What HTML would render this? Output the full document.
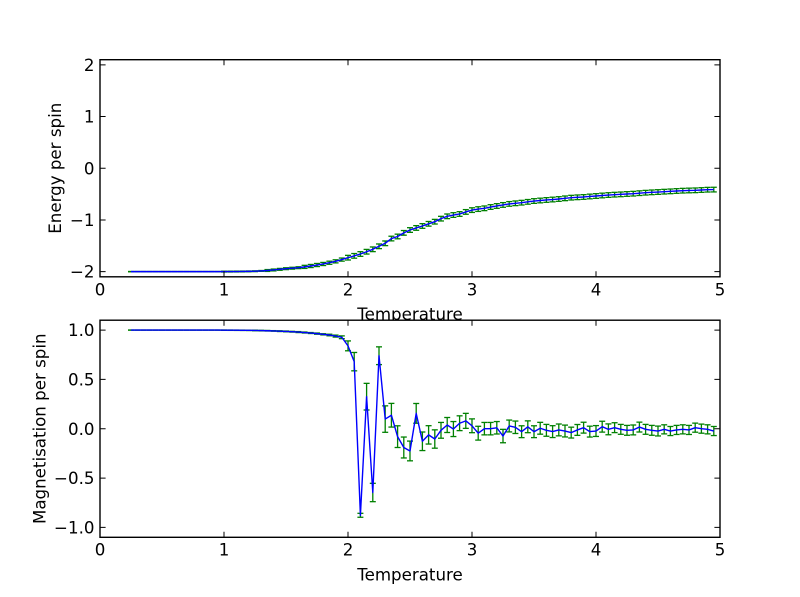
<!DOCTYPE html>
<html>
<head>
<meta charset="utf-8">
<style>
html,body{margin:0;padding:0;background:#fff;}
svg{display:block;}
text{font-family:"DejaVu Sans","Liberation Sans",sans-serif;font-size:16.67px;fill:#000;}
.eb1{fill:none;stroke:#008000;stroke-width:1.3;marker-start:url(#ct);marker-mid:url(#ct);marker-end:url(#ct);}
.eb2{fill:none;stroke:#008000;stroke-width:1.3;marker-start:url(#cb);marker-mid:url(#cb);marker-end:url(#cb);}
.ln{fill:none;stroke:#0000ff;stroke-width:1.4;stroke-linejoin:round;}
</style>
</head>
<body>
<svg width="800" height="597" viewBox="0 0 800 597" xmlns="http://www.w3.org/2000/svg">
<defs>
<marker id="ct" markerUnits="userSpaceOnUse" markerWidth="1" markerHeight="1" refX="0" refY="0" orient="0" overflow="visible"><path d="M-.0242,0H.0242" fill="none" stroke="#008000" stroke-width=".0251"/></marker>
<marker id="cb" markerUnits="userSpaceOnUse" markerWidth="1" markerHeight="1" refX="0" refY="0" orient="0" overflow="visible"><path d="M-.0242,0H.0242" fill="none" stroke="#008000" stroke-width=".0132"/></marker>
</defs>
<rect x="0" y="0" width="800" height="597" fill="#fff"/>

<!-- TOP AXES -->
<rect x="100" y="59.7" width="620" height="217.1" fill="#fff"/>
<g transform="matrix(124 0 0 -51.69 100 168.25)">
<path class="eb1" vector-effect="non-scaling-stroke" d="M.25,-2.003V-1.997M.3,-2.003V-1.997M.35,-2.003V-1.997M.4,-2.003V-1.997M.45,-2.003V-1.997M.5,-2.003V-1.997M.55,-2.003V-1.997M.6,-2.003V-1.997M.65,-2.003V-1.997M.7,-2.003V-1.997M.75,-2.003V-1.997M.8,-2.003V-1.997M.85,-2.003V-1.997M.9,-2.003V-1.997M.95,-2.003V-1.997M1,-2.0075V-1.9915M1.05,-2.007V-1.991M1.1,-2.006V-1.99M1.15,-2.005V-1.989M1.2,-2.003V-1.987M1.25,-2V-1.984M1.3,-1.994V-1.978M1.35,-1.996V-1.96M1.4,-1.986V-1.95M1.45,-1.974V-1.938M1.5,-1.961V-1.925M1.55,-1.952V-1.916M1.6,-1.942V-1.906M1.65,-1.938V-1.878M1.7,-1.921V-1.861M1.75,-1.902V-1.842M1.8,-1.882V-1.822M1.85,-1.858V-1.798M1.9,-1.831V-1.771M1.95,-1.797V-1.737M2,-1.775V-1.685M2.05,-1.74V-1.65M2.1,-1.704V-1.614M2.15,-1.66V-1.57M2.2,-1.613V-1.523M2.25,-1.555V-1.465M2.3,-1.497V-1.407M2.35,-1.405V-1.315M2.4,-1.365V-1.275M2.45,-1.295V-1.205M2.5,-1.24V-1.15M2.55,-1.2V-1.11M2.6,-1.162V-1.072M2.65,-1.12V-1.03M2.7,-1.079V-.989M2.75,-1.02V-.93M2.8,-.975V-.885M2.85,-.95V-.86M2.9,-.93V-.84M2.95,-.89V-.8M3,-.855V-.765M3.05,-.835V-.745M3.1,-.82V-.73M3.15,-.795V-.705M3.2,-.775V-.685M3.25,-.755V-.665M3.3,-.735V-.645M3.35,-.723V-.633M3.4,-.711V-.621M3.45,-.695V-.605M3.5,-.679V-.589M3.55,-.669V-.579M3.6,-.659V-.569M3.65,-.65V-.56M3.7,-.64V-.55M3.75,-.627V-.537M3.8,-.614V-.524M3.85,-.607V-.517M3.9,-.601V-.511M3.95,-.591V-.501M4,-.582V-.492M4.05,-.572V-.482M4.1,-.563V-.473M4.15,-.556V-.466M4.2,-.55V-.46M4.25,-.543V-.453M4.3,-.537V-.447M4.35,-.527V-.437M4.4,-.518V-.428M4.45,-.511V-.421M4.5,-.505V-.415M4.55,-.498V-.408M4.6,-.492V-.402M4.65,-.485V-.395M4.7,-.479V-.389M4.75,-.475V-.385M4.8,-.472V-.382M4.85,-.466V-.376M4.9,-.46V-.37M4.95,-.458V-.368"/>
<polyline class="ln" vector-effect="non-scaling-stroke" points=".25,-2 .95,-2 1,-1.9995 1.05,-1.999 1.1,-1.998 1.15,-1.997 1.2,-1.995 1.25,-1.992 1.3,-1.986 1.35,-1.978 1.4,-1.968 1.45,-1.956 1.5,-1.943 1.55,-1.934 1.6,-1.924 1.65,-1.908 1.7,-1.891 1.75,-1.872 1.8,-1.852 1.85,-1.828 1.9,-1.801 1.95,-1.767 2,-1.73 2.05,-1.695 2.1,-1.659 2.15,-1.615 2.2,-1.568 2.25,-1.51 2.3,-1.452 2.35,-1.36 2.4,-1.32 2.45,-1.25 2.5,-1.195 2.55,-1.155 2.6,-1.117 2.65,-1.075 2.7,-1.034 2.75,-.975 2.8,-.93 2.85,-.905 2.9,-.885 2.95,-.845 3,-.81 3.05,-.79 3.1,-.775 3.15,-.75 3.2,-.73 3.25,-.71 3.3,-.69 3.35,-.678 3.4,-.666 3.45,-.65 3.5,-.634 3.55,-.624 3.6,-.614 3.65,-.605 3.7,-.595 3.75,-.582 3.8,-.569 3.85,-.562 3.9,-.556 3.95,-.546 4,-.537 4.05,-.527 4.1,-.518 4.15,-.511 4.2,-.505 4.25,-.498 4.3,-.492 4.35,-.482 4.4,-.473 4.45,-.466 4.5,-.46 4.55,-.453 4.6,-.447 4.65,-.44 4.7,-.434 4.75,-.43 4.8,-.427 4.85,-.421 4.9,-.415 4.95,-.413"/>
</g>
<path fill="none" stroke="#000" stroke-width="1" d="M100,276.8V271.2M224,276.8V271.2M348,276.8V271.2M472,276.8V271.2M596,276.8V271.2M720,276.8V271.2M100,59.7V65.3M224,59.7V65.3M348,59.7V65.3M472,59.7V65.3M596,59.7V65.3M720,59.7V65.3M100,64.87H105.6M100,116.56H105.6M100,168.25H105.6M100,219.94H105.6M100,271.63H105.6M720,64.87H714.4M720,116.56H714.4M720,168.25H714.4M720,219.94H714.4M720,271.63H714.4"/>
<rect x="100" y="59.7" width="620" height="217.1" fill="none" stroke="#000" stroke-width="1.4"/>
<g text-anchor="end">
<text x="94.5" y="70.97">2</text>
<text x="94.5" y="122.66">1</text>
<text x="94.5" y="174.35">0</text>
<text x="94.5" y="226.04">−1</text>
<text x="94.5" y="277.73">−2</text>
</g>
<g text-anchor="middle">
<text x="100" y="295.3">0</text>
<text x="224" y="295.3">1</text>
<text x="348" y="295.3">2</text>
<text x="472" y="295.3">3</text>
<text x="596" y="295.3">4</text>
<text x="720" y="295.3">5</text>
<text x="410" y="320.2">Temperature</text>
</g>
<text text-anchor="middle" transform="translate(61,168.25) rotate(-90)">Energy per spin</text>

<!-- BOTTOM AXES -->
<rect x="100" y="320.2" width="620" height="217.1" fill="#fff"/>
<g transform="matrix(124 0 0 -98.68 100 428.75)">
<path class="eb2" vector-effect="non-scaling-stroke" d="M.25,.999V1.001M.3,.999V1.001M.35,.999V1.001M.4,.999V1.001M.45,.999V1.001M.5,.999V1.001M.55,.999V1.001M.6,.999V1.001M.65,.999V1.001M.7,.999V1.001M.75,.999V1.001M.8,.999V1.001M.85,.999V1.001M.9,.999V1.001M.95,.999V1.001M1,.9973V1.0013M1.05,.9969V1.0009M1.1,.9964V1.0004M1.15,.9958V.9998M1.2,.9951V.9991M1.25,.9931V.9991M1.3,.9917V.9977M1.35,.9902V.9962M1.4,.9884V.9944M1.45,.9851V.9931M1.5,.9824V.9904M1.55,.9792V.9872M1.6,.9746V.9846M1.65,.9702V.9802M1.7,.965V.975M1.75,.958V.97M1.8,.951V.963M1.85,.942V.958M1.9,.929V.949M1.95,.913V.941M2,.79V.89M2.05,.587V.773M2.1,-.897V-.857M2.15,.19V.46M2.2,-.739V-.553M2.25,.65V.83M2.3,-.036V.232M2.35,.017V.257M2.4,-.19V.03M2.45,-.296V-.084M2.5,-.325V-.125M2.55,.056V.256M2.6,-.221V-.033M2.65,-.155V.031M2.7,-.197V-.011M2.75,-.096V.064M2.8,-.038V.114M2.85,-.079V.073M2.9,-.019V.131M2.95,.004V.156M3,-.04V.1M3.05,-.115V.025M3.1,-.062V.064M3.15,-.062V.064M3.2,-.053V.073M3.25,-.142V-.006M3.3,-.032V.088M3.35,-.048V.078M3.4,-.09V.03M3.45,-.04V.08M3.5,-.09V.03M3.55,-.055V.065M3.6,-.076V.044M3.65,-.089V.031M3.7,-.072V.048M3.75,-.083V.037M3.8,-.094V.016M3.85,-.067V.043M3.9,-.044V.066M3.95,-.084V.026M4,-.078V.032M4.05,-.034V.076M4.1,-.061V.049M4.15,-.039V.061M4.2,-.056V.044M4.25,-.066V.034M4.3,-.062V.038M4.35,-.033V.067M4.4,-.056V.044M4.45,-.066V.034M4.5,-.073V.027M4.55,-.052V.04M4.6,-.069V.023M4.65,-.058V.034M4.7,-.052V.04M4.75,-.058V.034M4.8,-.035V.057M4.85,-.045V.047M4.9,-.052V.04M4.95,-.069V.023"/>
<polyline class="ln" vector-effect="non-scaling-stroke" points=".25,1 .95,1 1,.9993 1.05,.9989 1.1,.9984 1.15,.9978 1.2,.9971 1.25,.9961 1.3,.9947 1.35,.9932 1.4,.9914 1.45,.9891 1.5,.9864 1.55,.9832 1.6,.9796 1.65,.9752 1.7,.97 1.75,.964 1.8,.957 1.85,.95 1.9,.939 1.95,.927 2,.84 2.05,.68 2.1,-.877 2.15,.325 2.2,-.646 2.25,.74 2.3,.098 2.35,.137 2.4,-.08 2.45,-.19 2.5,-.225 2.55,.156 2.6,-.127 2.65,-.062 2.7,-.104 2.75,-.016 2.8,.038 2.85,-.003 2.9,.056 2.95,.08 3,.03 3.05,-.045 3.1,.001 3.15,.001 3.2,.01 3.25,-.074 3.3,.028 3.35,.015 3.4,-.03 3.45,.02 3.5,-.03 3.55,.005 3.6,-.016 3.65,-.029 3.7,-.012 3.75,-.023 3.8,-.039 3.85,-.012 3.9,.011 3.95,-.029 4,-.023 4.05,.021 4.1,-.006 4.15,.011 4.2,-.006 4.25,-.016 4.3,-.012 4.35,.017 4.4,-.006 4.45,-.016 4.5,-.023 4.55,-.006 4.6,-.023 4.65,-.012 4.7,-.006 4.75,-.012 4.8,.011 4.85,.001 4.9,-.006 4.95,-.023"/>
</g>
<path fill="none" stroke="#000" stroke-width="1" d="M100,537.3V531.7M224,537.3V531.7M348,537.3V531.7M472,537.3V531.7M596,537.3V531.7M720,537.3V531.7M100,320.2V325.8M224,320.2V325.8M348,320.2V325.8M472,320.2V325.8M596,320.2V325.8M720,320.2V325.8M100,330.07H105.6M100,379.41H105.6M100,428.75H105.6M100,478.09H105.6M100,527.43H105.6M720,330.07H714.4M720,379.41H714.4M720,428.75H714.4M720,478.09H714.4M720,527.43H714.4"/>
<rect x="100" y="320.2" width="620" height="217.1" fill="none" stroke="#000" stroke-width="1.4"/>
<g text-anchor="end">
<text x="94.5" y="336.17">1.0</text>
<text x="94.5" y="385.5">0.5</text>
<text x="94.5" y="434.85">0.0</text>
<text x="94.5" y="484.2">−0.5</text>
<text x="94.5" y="533.5">−1.0</text>
</g>
<g text-anchor="middle">
<text x="100" y="555.5">0</text>
<text x="224" y="555.5">1</text>
<text x="348" y="555.5">2</text>
<text x="472" y="555.5">3</text>
<text x="596" y="555.5">4</text>
<text x="720" y="555.5">5</text>
<text x="410" y="580.5">Temperature</text>
</g>
<text text-anchor="middle" transform="translate(45.5,428.75) rotate(-90)">Magnetisation per spin</text>
</svg>
</body>
</html>
